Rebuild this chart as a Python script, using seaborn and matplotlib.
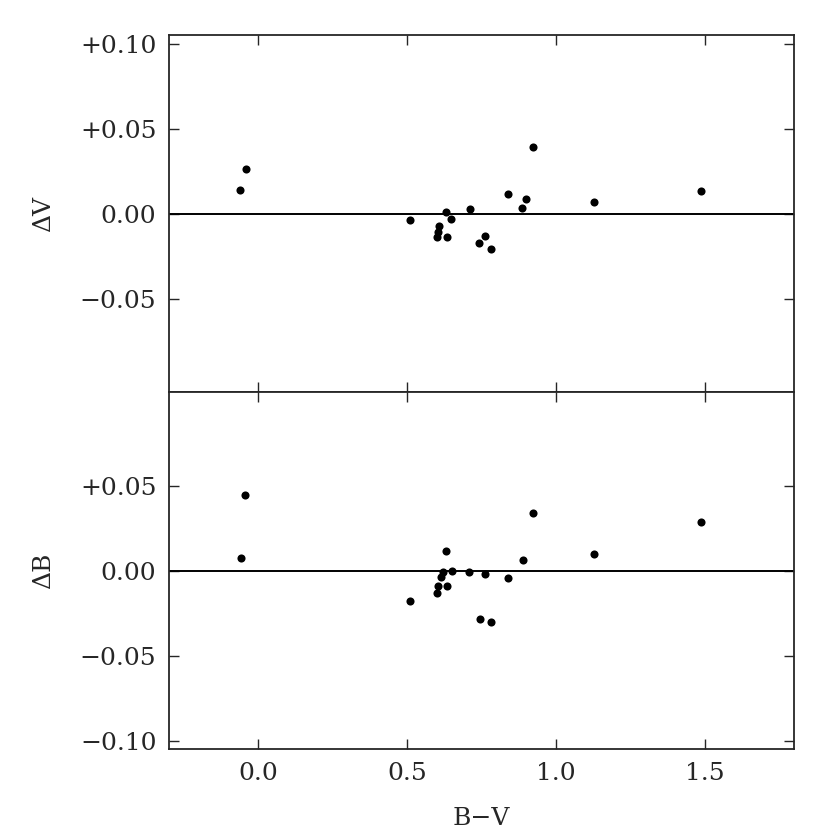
import matplotlib

matplotlib.use('Agg')
import matplotlib.pyplot as plt
import seaborn as sns
import pandas as pd

# B-V colour and residuals
bv_top = [-0.04, -0.06, 0.51, 0.632, 0.649, 0.608, 0.604, 0.599, 0.635, 0.712,
          0.761, 0.743, 0.781, 0.840, 0.899, 0.886, 0.924, 1.129, 1.488]
dV = [0.026, 0.014, -0.004, 0.001, -0.003, -0.007, -0.011, -0.014, -0.0135, 0.003,
      -0.013, -0.017, -0.021, 0.0117, 0.0085, 0.0032, 0.039, 0.0066, 0.0136]

bv_bot = [-0.044, -0.058, 0.509, 0.630, 0.621, 0.652, 0.613, 0.604, 0.599, 0.635,
          0.709, 0.762, 0.744, 0.781, 0.840, 0.888, 0.924, 1.127, 1.488]
dB = [0.0444, 0.0076, -0.0178, 0.0117, -0.0009, 0.0, -0.0039, -0.0088, -0.0131, -0.0092,
      -0.0009, -0.0023, -0.0283, -0.0303, -0.0043, 0.0065, 0.0337, 0.0096, 0.0284]

xticks = [0.0, 0.5, 1.0, 1.5]
xticklabels = ['0.0', '0.5', '1.0', '1.5']
top_yticks = [-0.05, 0.0, 0.05, 0.10]
top_ylabels = ['\u22120.05', '0.00', '+0.05', '+0.10']
bot_yticks = [-0.10, -0.05, 0.0, 0.05]
bot_ylabels = ['\u22120.10', '\u22120.05', '0.00', '+0.05']

sns.set_style('ticks')
plt.rcParams['font.family'] = ['DejaVu Serif']

df_top = pd.DataFrame({'bv': bv_top, 'd': dV})
df_bot = pd.DataFrame({'bv': bv_bot, 'd': dB})

fig, (ax1, ax2) = plt.subplots(2, 1, figsize=(8.3, 8.38), dpi=100, sharex=True)
fig.subplots_adjust(left=0.2036, right=0.9566, top=0.958, bottom=0.1062, hspace=0)

for ax, df, yt, yl, lab in [(ax1, df_top, top_yticks, top_ylabels, '\u0394V'),
                            (ax2, df_bot, bot_yticks, bot_ylabels, '\u0394B')]:
    sns.scatterplot(data=df, x='bv', y='d', ax=ax, color='black', s=34,
                    edgecolor='black', linewidth=0)
    ax.axhline(0, color='black', lw=1.4)
    ax.set_xlim(-0.3, 1.8)
    ax.set_ylim(-0.105, 0.105)
    ax.set_yticks(yt)
    ax.set_yticklabels(yl)
    ax.set_ylabel(lab, fontsize=18, labelpad=18)
    ax.tick_params(direction='in', length=7, width=1, top=True, right=True,
                   labelsize=18, pad=9)
    for sp in ax.spines.values():
        sp.set_linewidth(1.3)
        sp.set_visible(True)

ax2.set_xticks(xticks)
ax2.set_xticklabels(xticklabels)
ax2.set_xlabel('B\u2212V', fontsize=18, labelpad=16)
ax1.set_xlabel('')

plt.savefig('out.png', dpi=100)
plt.close()
